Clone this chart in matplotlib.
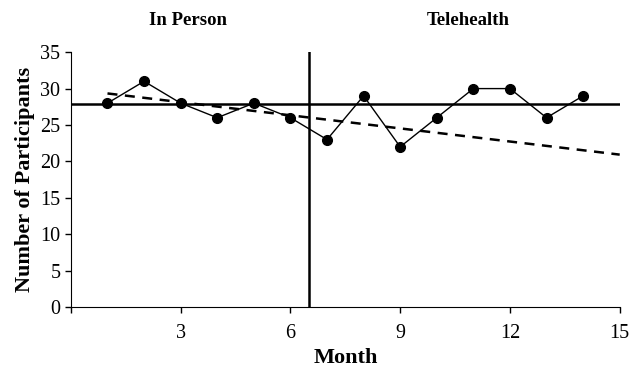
import numpy as np
import matplotlib.pyplot as plt

plt.rcParams['font.family'] = ['Liberation Serif', 'DejaVu Serif']

meses = np.arange(1, 15)
participantes = [28, 31, 28, 26, 28, 26, 23, 29, 22, 26, 30, 30, 26, 29]
n_presencial = 6
corte = 6.5
xticks = [0, 3, 6, 9, 12, 15]
xticklabels = ["", "3", "6", "9", "12", "15"]
yticks = [0, 5, 10, 15, 20, 25, 30, 35]

presencial = np.array(participantes[:n_presencial])
media = presencial.mean()
coef = np.polyfit(meses[:n_presencial], presencial, 1)

fig = plt.figure(figsize=(6.33, 3.70), dpi=100)
ax = fig.add_axes([0.112, 0.170, 0.867, 0.689])

ax.plot(meses, participantes, color='black', linewidth=1, marker='o',
        markersize=7, zorder=3)
ax.axhline(media, color='black', linewidth=1.8)
ax.axvline(corte, color='black', linewidth=1.8)
xt = np.array([1, 15])
ax.plot(xt, np.polyval(coef, xt), color='black', linestyle=(0, (4, 3)),
        linewidth=1.8)

ax.set_xlim(0, 15)
ax.set_ylim(0, 35)
ax.set_xticks(xticks)
ax.set_xticklabels(xticklabels)
ax.set_yticks(yticks)
ax.tick_params(labelsize=14.5, direction='out', length=4, width=1)
ax.tick_params(axis='x', pad=8)
ax.spines['top'].set_visible(False)
ax.spines['right'].set_visible(False)

ax.set_xlabel("Month", fontsize=16, fontweight='bold')
ax.set_ylabel("Number of Participants", fontsize=16, fontweight='bold')

ax.text(3.2, 39.4, "In Person", ha='center', va='center', fontsize=13.5,
        fontweight='bold')
ax.text(10.85, 39.4, "Telehealth", ha='center', va='center', fontsize=13.5,
        fontweight='bold')

fig.savefig("out.png", dpi=100)
